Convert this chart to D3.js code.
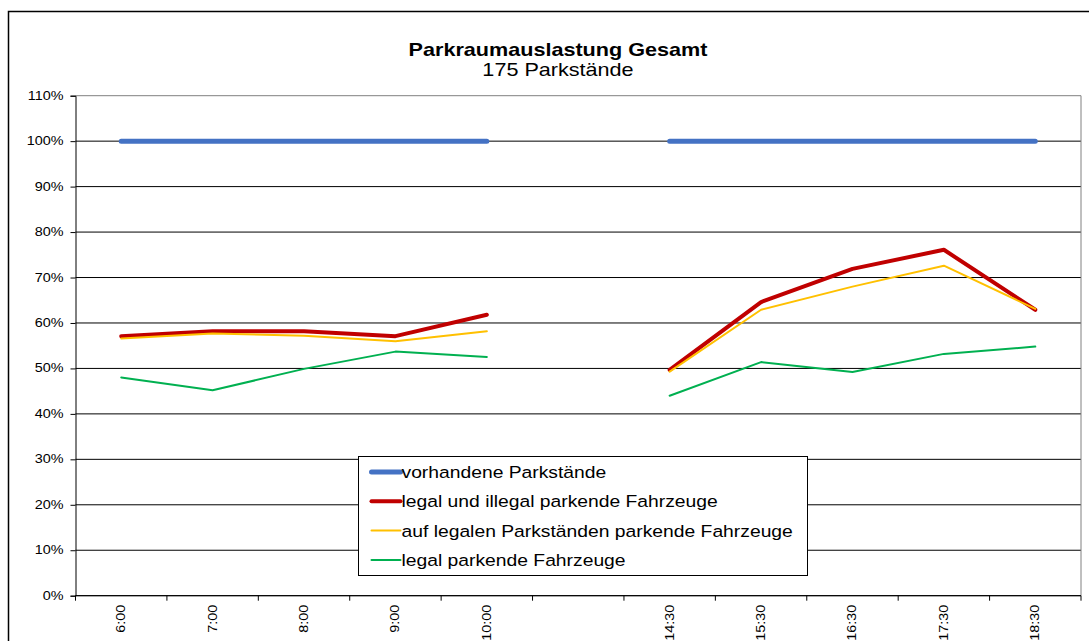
<!DOCTYPE html>
<meta charset="utf-8">
<head>
<script src="https://cdn.jsdelivr.net/npm/d3@7"></script>
<style>
  body { margin: 0; background: #fff; }
  text { font-family: "Liberation Sans", Arial, sans-serif; fill: #000; }
</style>
</head>
<body>
<div id="chart"></div>
<script>
// categories (slot 5 is an empty gap on the axis)
var labels = ["6:00", "7:00", "8:00", "9:00", "10:00", "", "14:30", "15:30", "16:30", "17:30", "18:30"];
var yTicks = [0, 10, 20, 30, 40, 50, 60, 70, 80, 90, 100, 110];

// values in percent, null = no value
var vorhanden = [100, 100, 100, 100, 100, null, 100, 100, 100, 100, 100];
var legalIllegal = [57.1, 58.2, 58.2, 57.1, 61.8, null, 49.7, 64.6, 71.9, 76.1, 62.9];
var aufLegalen = [56.6, 57.7, 57.2, 56.0, 58.2, null, 49.3, 62.9, 68.0, 72.6, 63.1];
var legalParkend = [48.0, 45.2, 49.9, 53.7, 52.5, null, 44.0, 51.4, 49.2, 53.2, 54.8];

var series = [
  {name: "vorhandene Parkstände", values: vorhanden, color: "#4472c4", w: 5},
  {name: "legal und illegal parkende Fahrzeuge", values: legalIllegal, color: "#c00000", w: 4},
  {name: "auf legalen Parkständen parkende Fahrzeuge", values: aufLegalen, color: "#ffc000", w: 2},
  {name: "legal parkende Fahrzeuge", values: legalParkend, color: "#00b050", w: 2}
];

var W = 1089, H = 641;
var plot = {left: 75.5, right: 1081, top: 95.7, bottom: 595.7};
var sx = 1.2; // the original text is a bit wider than Liberation Sans

var svg = d3.select("#chart").append("svg")
    .attr("width", W).attr("height", H);

// outer chart border
svg.append("rect")
    .attr("x", 8.5).attr("y", 11.5)
    .attr("width", W + 20).attr("height", H + 20)
    .attr("fill", "#fff").attr("stroke", "#000").attr("stroke-width", 1.5);

var x = d3.scaleBand()
    .domain(d3.range(labels.length))
    .range([plot.left, plot.right]);
var y = d3.scaleLinear().domain([0, 110]).range([plot.bottom, plot.top]);

// gridlines
svg.append("g").selectAll("line")
    .data(yTicks)
    .enter().append("line")
    .attr("x1", plot.left).attr("x2", plot.right)
    .attr("y1", d => y(d)).attr("y2", d => y(d))
    .attr("stroke", d => d === 110 ? "#808080" : "#000")
    .attr("stroke-width", 1);

// right border of plot
svg.append("line")
    .attr("x1", plot.right).attr("x2", plot.right)
    .attr("y1", plot.top).attr("y2", plot.bottom)
    .attr("stroke", "#808080");

// y axis
var yAxis = d3.axisLeft(y).tickValues(yTicks).tickSize(5).tickFormat("");
var gy = svg.append("g").attr("transform", "translate(" + plot.left + ",0)").call(yAxis);
gy.select(".domain").attr("stroke", "#000");
gy.selectAll(".yl")
    .data(yTicks)
    .enter().append("text")
    .attr("class", "yl")
    .attr("transform", d => "translate(-12," + (y(d) + 4) + ") scale(" + sx + ",1)")
    .attr("text-anchor", "end")
    .style("font-size", "12px")
    .text(d => d + "%");

// x axis: ticks at band borders, labels rotated
var gx = svg.append("g").attr("transform", "translate(0," + plot.bottom + ")");
gx.append("line")
    .attr("x1", plot.left).attr("x2", plot.right)
    .attr("stroke", "#000");
gx.selectAll(".tk")
    .data(d3.range(labels.length + 1))
    .enter().append("line")
    .attr("class", "tk")
    .attr("x1", d => plot.left + d * x.step()).attr("x2", d => plot.left + d * x.step())
    .attr("y1", 0).attr("y2", 5)
    .attr("stroke", "#000");
gx.selectAll(".lb")
    .data(labels)
    .enter().append("text")
    .attr("class", "lb")
    .attr("transform", (d, i) => "translate(" + (x(i) + x.bandwidth() / 2 + 4) + ",9) rotate(-90) scale(" + sx + ",1)")
    .attr("text-anchor", "end")
    .style("font-size", "12px")
    .text(d => d);

// lines
var line = d3.line()
    .defined(d => d != null)
    .x((d, i) => x(i) + x.bandwidth() / 2)
    .y(d => y(d));

svg.append("g").selectAll("path")
    .data(series)
    .enter().append("path")
    .attr("d", d => line(d.values))
    .attr("fill", "none")
    .attr("stroke", d => d.color)
    .attr("stroke-width", d => d.w)
    .attr("stroke-linejoin", "round")
    .attr("stroke-linecap", "round");

// title
svg.append("text")
    .attr("transform", "translate(558,56) scale(" + sx + ",1)")
    .attr("text-anchor", "middle")
    .style("font-size", "18px").style("font-weight", "bold")
    .text("Parkraumauslastung Gesamt");
svg.append("text")
    .attr("transform", "translate(558,76) scale(" + sx + ",1)")
    .attr("text-anchor", "middle")
    .style("font-size", "18px")
    .text("175 Parkstände");

// legend
var lg = svg.append("g").attr("transform", "translate(358.5,456.5)");
lg.append("rect")
    .attr("width", 449).attr("height", 119)
    .attr("fill", "#fff").attr("stroke", "#000");
var item = lg.selectAll(".it")
    .data(series)
    .enter().append("g")
    .attr("class", "it")
    .attr("transform", (d, i) => "translate(0," + (15.5 + i * 29.3) + ")");
item.append("line")
    .attr("x1", 13).attr("x2", 42)
    .attr("stroke", d => d.color)
    .attr("stroke-width", d => d.w)
    .attr("stroke-linecap", "round");
item.append("text")
    .attr("transform", "translate(43,6) scale(1.17,1)")
    .style("font-size", "16.5px")
    .text(d => d.name);
</script>
</body>
</html>
